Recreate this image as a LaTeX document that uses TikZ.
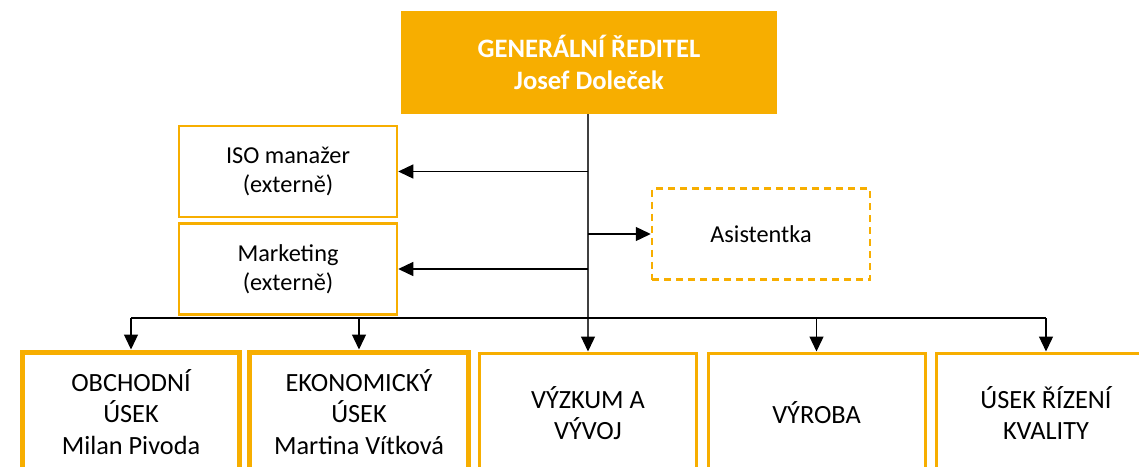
\documentclass[tikz,border=0pt]{standalone}
\usepackage{fontspec}
\setmainfont{Carlito}
\usetikzlibrary{arrows.meta}
\definecolor{gold}{RGB}{247,174,0}
\begin{document}
\begin{tikzpicture}[x=1pt,y=-1pt,
  arr/.style={-{Triangle[length=15pt,width=14pt,color=black]}, line width=1.3pt, black},
  ln/.style={line width=1.3pt, black},
  topbox/.style={fill=gold, draw=gold, line width=1pt, inner sep=0pt, align=center,
     minimum width=375pt, minimum height=102pt, text=white,
     font=\fontsize{26.6}{32}\selectfont\bfseries},
  sidebox/.style={draw=gold, line width=2.5pt, inner sep=0pt, align=center,
     minimum width=218pt, minimum height=91pt, font=\fontsize{24.3}{29}\selectfont},
  dashbox/.style={sidebox, dash pattern=on 7pt off 5pt},
  unitbox/.style={draw=gold, line width=3pt, inner sep=0pt, align=center,
     minimum width=217pt, minimum height=120pt, font=\fontsize{26.3}{31.5}\selectfont},
  thickbox/.style={unitbox, line width=5pt}
]
\useasboundingbox (0,0) rectangle (1139,466);
\node[topbox] (gr) at (589,62.5) {GENERÁLNÍ ŘEDITEL\\Josef Doleček};
\node[sidebox] (iso) at (288,171.5) {ISO manažer\\(externě)};
\node[sidebox] (mkt) at (288,269) {Marketing\\(externě)};
\node[dashbox] (asi) at (761,234) {Asistentka};
\node[thickbox] (obch) at (131,412) {OBCHODNÍ\\ÚSEK\\Milan Pivoda};
\node[thickbox, minimum width=219pt] (eko) at (359,412) {EKONOMICKÝ\\ÚSEK\\Martina Vítková};
\node[unitbox] (vyz) at (588,413) {VÝZKUM A\\VÝVOJ};
\node[unitbox] (vyr) at (816.5,413) {VÝROBA};
\node[unitbox, minimum width=219pt] (kval) at (1046,413) {ÚSEK ŘÍZENÍ\\KVALITY};
\coordinate (bus) at (0,318);
% trunk
\draw[arr, draw=black!75] (gr.south -| vyz.north) -- (vyz.north);
\draw[arr] (vyz.north |- iso.east) -- (iso.east);
\draw[arr] (vyz.north |- mkt.east) -- (mkt.east);
\draw[arr] (vyz.north |- asi.west) -- (asi.west);
% bus
\draw[ln] (obch.north |- bus) -- (kval.north |- bus);
\draw[arr] (obch.north |- bus) -- (obch.north);
\draw[arr] (eko.north |- bus) -- (eko.north);
\draw[arr] (vyr.north |- bus) -- (vyr.north);
\draw[arr] (kval.north |- bus) -- (kval.north);
\end{tikzpicture}
\end{document}
